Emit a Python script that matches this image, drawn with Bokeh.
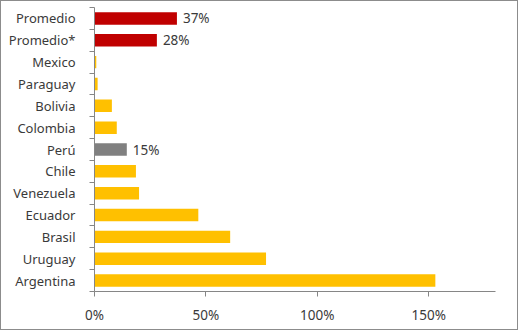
from bokeh.plotting import figure
from bokeh.models import FixedTicker, NumeralTickFormatter, ColumnDataSource, Range1d
from bokeh.core.properties import value
from bokeh.embed import file_html
from bokeh.resources import INLINE

# Data (top to bottom as in the chart)
countries = ["Promedio", "Promedio*", "Mexico", "Paraguay", "Bolivia", "Colombia", "Perú",
             "Chile", "Venezuela", "Ecuador", "Brasil", "Uruguay", "Argentina"]
values = [0.37, 0.28, 0.008, 0.014, 0.078, 0.10, 0.145, 0.186, 0.20, 0.466, 0.609, 0.77, 1.53]
labels = ["37%", "28%", "", "", "", "", "15%", "", "", "", "", "", ""]
colors = ["#C00000", "#C00000", "#FFC000", "#FFC000", "#FFC000", "#FFC000", "#808080",
          "#FFC000", "#FFC000", "#FFC000", "#FFC000", "#FFC000", "#FFC000"]
x_ticks = [0, 0.5, 1.0, 1.5]

FONT = "Noto Sans"
TXT = "#3a3a3a"

n = len(countries)
ypos = [n - i - 0.5 for i in range(n)]

src = ColumnDataSource(dict(y=ypos, v=values, lab=labels, col=colors, name=countries))

p = figure(width=518, height=330, output_backend="svg", toolbar_location=None,
           x_range=Range1d(0, 1.8), y_range=Range1d(0, n),
           min_border_left=93, min_border_right=24, min_border_top=6, min_border_bottom=40)
p.styles = {"border": "1px solid #8c8c8c"}
p.outline_line_color = None
p.grid.grid_line_color = None

p.hbar(y="y", left=0, right="v", height=0.57, fill_color="col", line_color=None, source=src)
p.text(x="v", y="y", text="lab", source=src, x_offset=6, text_baseline="middle",
       text_font=value(FONT), text_font_size="13.5px", text_color=TXT)

# x axis
xa = p.xaxis[0]
xa.ticker = FixedTicker(ticks=x_ticks)
xa.formatter = NumeralTickFormatter(format="0%")
xa.axis_line_color = "#868686"
xa.major_tick_line_color = "#868686"
xa.major_tick_in = 0
xa.major_tick_out = 5
xa.minor_tick_line_color = None
xa.major_label_text_font = FONT
xa.major_label_text_font_size = "13.5px"
xa.major_label_text_color = TXT
xa.major_label_standoff = 9

# y axis
ya = p.yaxis[0]
ya.ticker = FixedTicker(ticks=ypos, minor_ticks=list(range(n + 1)))
ya.major_label_overrides = {y: c for y, c in zip(ypos, countries)}
ya.axis_line_color = "#868686"
ya.major_tick_line_color = None
ya.major_tick_in = 0
ya.major_tick_out = 0
ya.minor_tick_line_color = "#868686"
ya.minor_tick_in = 0
ya.minor_tick_out = 5
ya.major_label_text_font = FONT
ya.major_label_text_font_size = "13px"
ya.major_label_text_color = TXT
ya.major_label_standoff = 14

open("out.html", "w").write(file_html(p, INLINE))
